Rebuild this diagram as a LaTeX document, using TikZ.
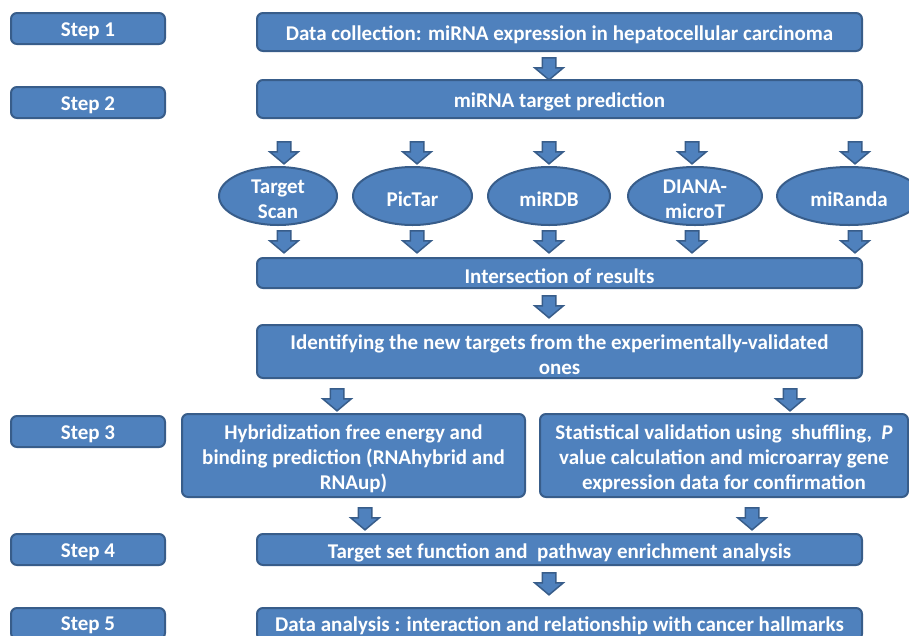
\documentclass[tikz,border=0pt]{standalone}
\usepackage{fontspec}
\setmainfont{Carlito}
\usetikzlibrary{shapes.geometric,shapes.arrows}
\definecolor{boxfill}{RGB}{79,129,189}
\definecolor{boxline}{RGB}{56,93,138}
\begin{document}
\begin{tikzpicture}[x=1pt,y=-1pt,
  txt/.style={font=\fontsize{21}{25}\selectfont\bfseries, text=white, align=center, inner sep=0pt},
  lbl/.style={label={[txt, yshift=-3pt]center:{#1}}},
  lbllow/.style={label={[txt, yshift=-1.5pt]center:{#1}}},
  box/.style={draw=boxline, fill=boxfill, line width=2pt, rounded corners=6pt, inner sep=0pt},
  stepbox/.style={box, minimum width=154pt, minimum height=31pt},
  widebox/.style={box, minimum width=605pt},
  tool/.style={ellipse, draw=boxline, fill=boxfill, line width=2pt, inner sep=0pt, minimum height=58pt},
  barrow/.style={single arrow, draw=boxline, fill=boxfill, line width=1.5pt, rotate=-90,
     minimum height=22pt, minimum width=27pt, single arrow head extend=7.5pt,
     single arrow tip angle=100, inner sep=6pt}
]
\clip (0,0) rectangle (909,635);
\fill[white] (0,0) rectangle (909,635);
% step labels
\node[stepbox, lbl={Step 1}] (s1) at (88,28.5) {};
\node[stepbox, lbl={Step 2}] (s2) at (88,102.5) {};
\node[stepbox, lbl={Step 3}] (s3) at (88,431.5) {};
\node[stepbox, lbl={Step 4}] (s4) at (88,549.5) {};
\node[stepbox, lbllow={Step 5}] (s5) at (88,623.5) {};
% main boxes
\node[widebox, minimum height=38pt, lbl={Data collection: miRNA expression in hepatocellular carcinoma}] (b1) at (559.5,32) {};
\node[widebox, minimum height=38pt, lbl={miRNA target prediction}] (b2) at (559.5,99) {};
\node[tool, minimum width=118pt, lbl={Target\\Scan}] (e1) at (278,196) {};
\node[tool, minimum width=119pt, lbl={PicTar}] (e2) at (412.5,196) {};
\node[tool, minimum width=122pt, lbl={miRDB}] (e3) at (549,196) {};
\node[tool, minimum width=134pt, lbl={DIANA-\\microT}] (e4) at (695,196) {};
\node[tool, minimum width=144pt, lbl={miRanda}] (e5) at (849,196) {};
\node[widebox, minimum height=30pt, lbl={Intersection of results}] (b3) at (559.5,273) {};
\node[widebox, minimum height=53pt, lbl={Identifying the new targets from the experimentally-validated\\ones}] (b4) at (559.5,351.5) {};
\node[box, minimum width=343pt, minimum height=83pt, lbl={Hybridization free energy and\\binding prediction (RNAhybrid and\\RNAup)}] (h) at (353.5,455.5) {};
\node[box, minimum width=368pt, minimum height=83pt, lbl={Statistical validation using\ \ shuffling,\ \ \textit{P}\\value calculation and microarray gene\\expression data for confirmation}] (v) at (724,455.5) {};
\node[widebox, minimum height=31pt, lbl={Target set function and\ \ pathway enrichment analysis}] (b5) at (559.5,549.5) {};
\node[widebox, minimum height=32pt, lbllow={Data analysis : interaction and relationship with cancer hallmarks}] (b6) at (559.5,624) {};
% block arrows
\node[barrow] (a1) at (549,66) {};
\node[barrow] (a2) at (284,150) {};
\node[barrow] (a3) at (417,150) {};
\node[barrow] (a4) at (549,150) {};
\node[barrow] (a5) at (692,150) {};
\node[barrow] (a6) at (855,150) {};
\node[barrow] (a7) at (284,239) {};
\node[barrow] (a8) at (417,239) {};
\node[barrow] (a9) at (549,239) {};
\node[barrow] (a10) at (692,239) {};
\node[barrow] (a11) at (855,239) {};
\node[barrow] (a12) at (549,304) {};
\node[barrow] (a13) at (337,397) {};
\node[barrow] (a14) at (790,397) {};
\node[barrow] (a15) at (365,516) {};
\node[barrow] (a16) at (752,516) {};
\node[barrow] (a17) at (549,581) {};
\end{tikzpicture}
\end{document}
